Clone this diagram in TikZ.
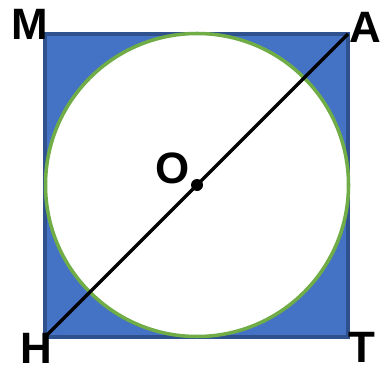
\documentclass[tikz,border=0pt]{standalone}
\usepackage{fontspec}
\setmainfont{Liberation Sans}
\definecolor{sqblue}{HTML}{4472C4}
\definecolor{sqedge}{HTML}{2F528F}
\definecolor{ringgreen}{HTML}{70AD47}
\begin{document}
\begin{tikzpicture}[x=0.02cm,y=-0.02cm,
    lbl/.style={font=\bfseries\fontsize{25}{25}\selectfont,inner sep=0pt}]
    \useasboundingbox (0,0) rectangle (381,371);
    % corners of the square and its centre
    \coordinate (m) at (45,34);
    \coordinate (a) at (348,34);
    \coordinate (t) at (348,337);
    \coordinate (h) at (45,337);
    \coordinate (o) at (197,185);
    % blue square
    \draw[fill=sqblue,draw=sqedge,line width=2pt] (m) -- (a) -- (t) -- (h) -- cycle;
    % inscribed circle
    \draw[fill=white,draw=ringgreen,line width=2pt] (o) circle (151.5);
    % diagonal through the centre
    \draw[line width=2pt] (h) -- (a);
    \fill (o) circle (6);
    % labels
    \node[lbl] (lm) at (30,24) {M};
    \node[lbl] (la) at (365,27) {A};
    \node[lbl] (lh) at (36,348) {H};
    \node[lbl] (lt) at (362,347) {T};
    \node[lbl] (lo) at (173,168) {O};
\end{tikzpicture}
\end{document}
